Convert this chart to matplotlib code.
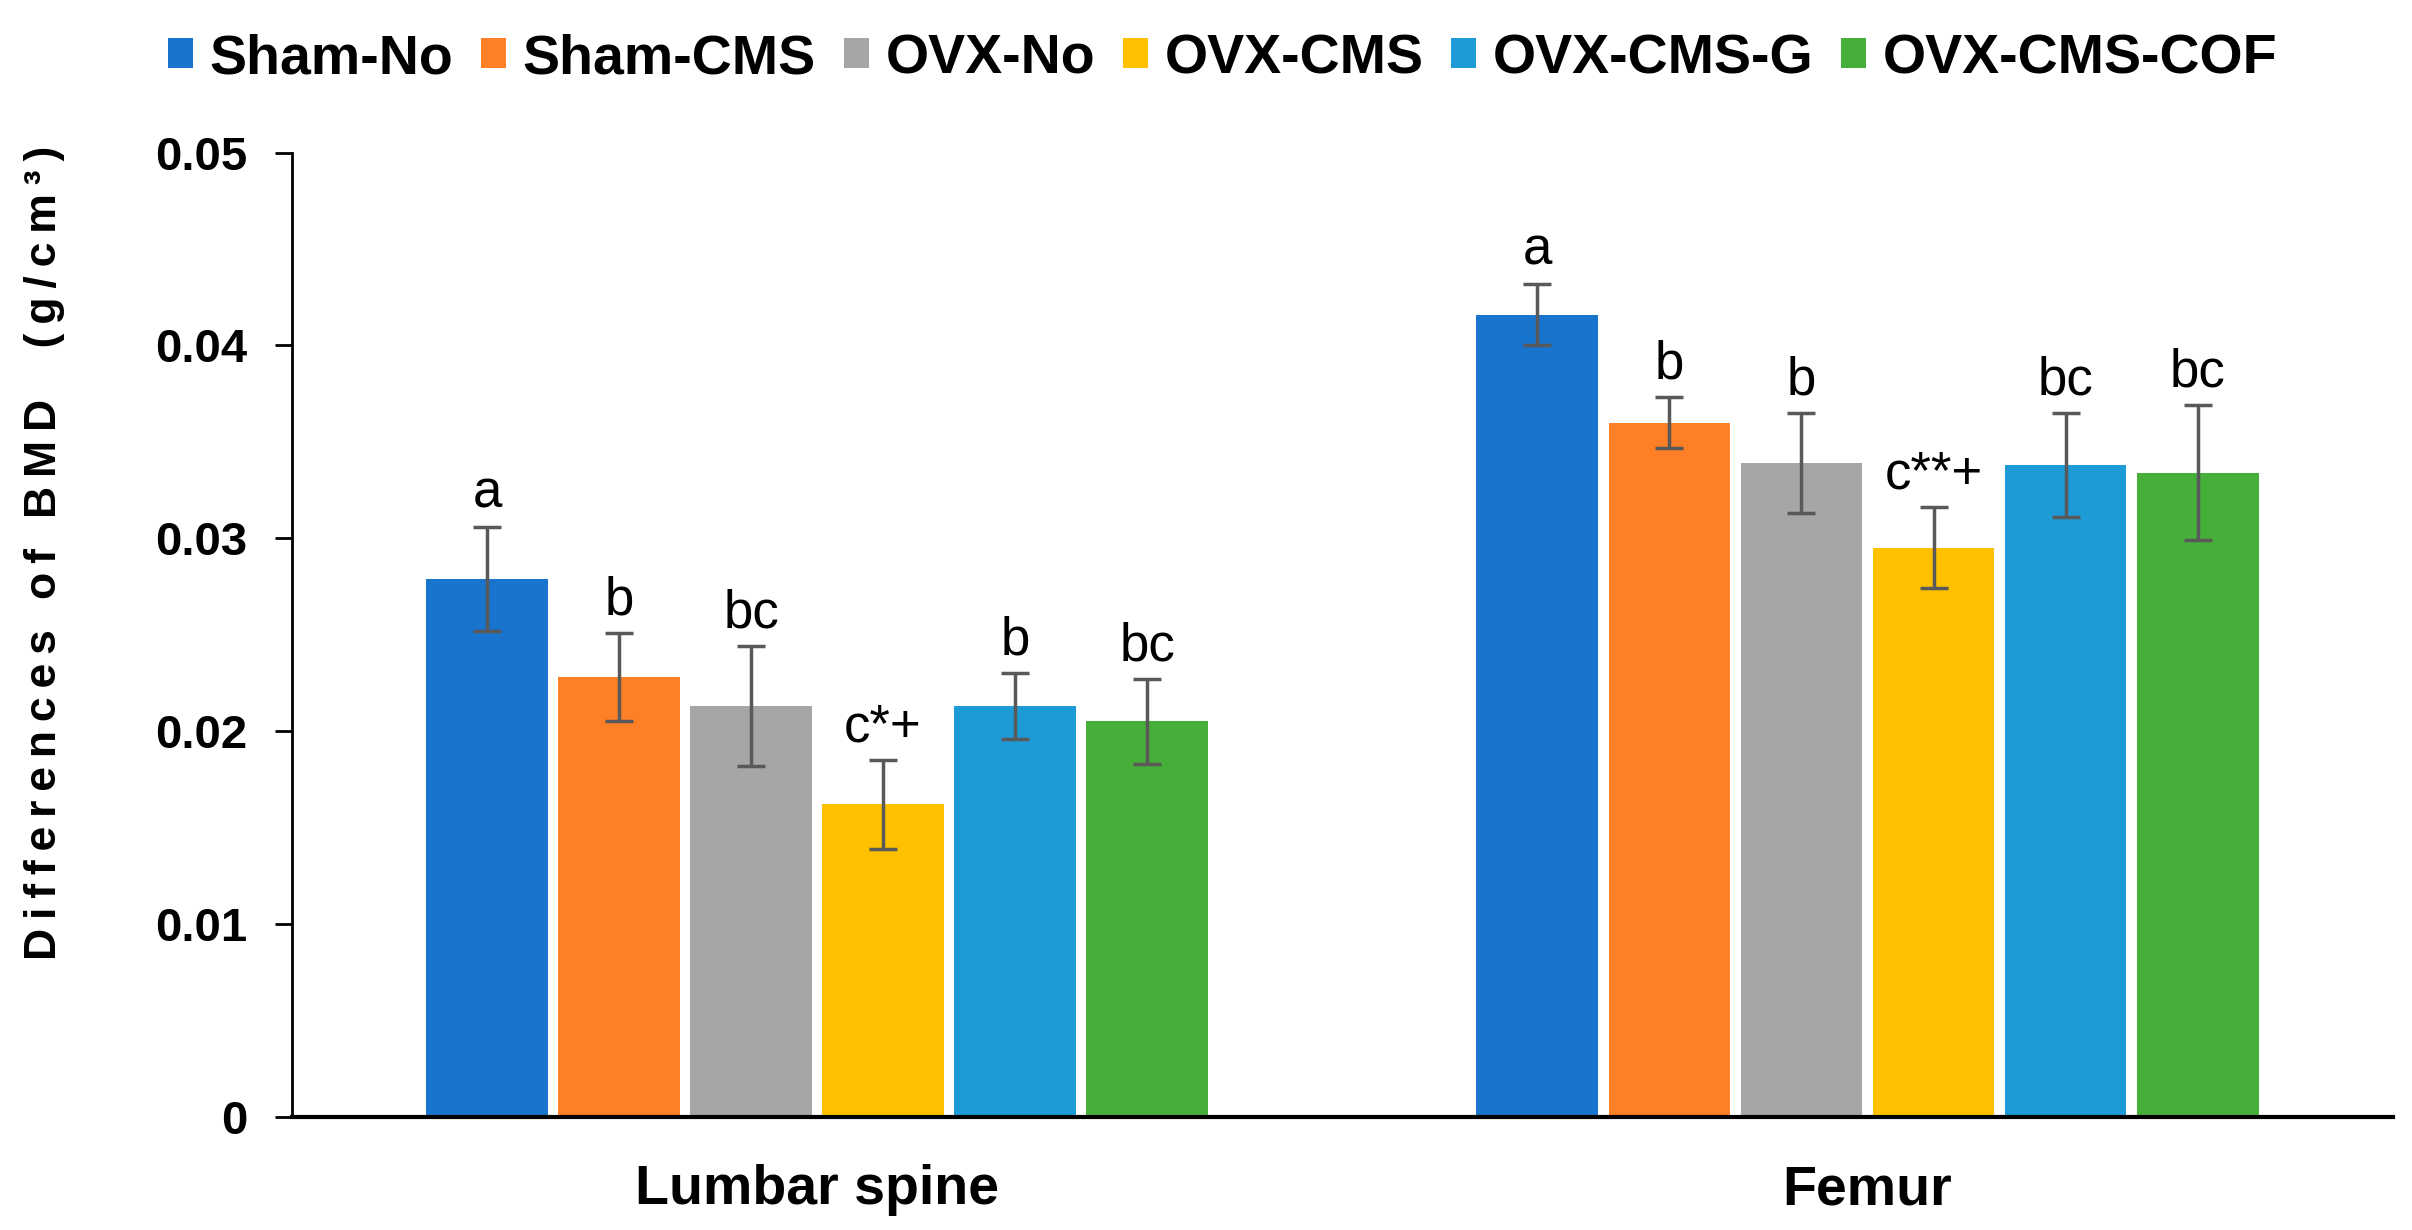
import numpy as np
import matplotlib
matplotlib.use("Agg")
import matplotlib.pyplot as plt

plt.rcParams['font.family'] = ['Liberation Sans', 'DejaVu Sans']

sites = ["Lumbar spine", "Femur"]
groups = ["Sham-No", "Sham-CMS", "OVX-No", "OVX-CMS", "OVX-CMS-G", "OVX-CMS-COF"]
colors = ["#1874CD", "#FF7F27", "#A6A6A6", "#FFC000", "#1E9BD7", "#45AF3A"]

# mean values per group, [lumbar, femur]
means = {
    "Sham-No":     [0.0279, 0.0416],
    "Sham-CMS":    [0.0228, 0.0360],
    "OVX-No":      [0.0213, 0.0339],
    "OVX-CMS":     [0.0162, 0.0295],
    "OVX-CMS-G":   [0.0213, 0.0338],
    "OVX-CMS-COF": [0.0205, 0.0334],
}
errors = {
    "Sham-No":     [0.0027, 0.0016],
    "Sham-CMS":    [0.0023, 0.0013],
    "OVX-No":      [0.0031, 0.0026],
    "OVX-CMS":     [0.0023, 0.0021],
    "OVX-CMS-G":   [0.0017, 0.0027],
    "OVX-CMS-COF": [0.0022, 0.0035],
}
letters = {
    "Sham-No":     ["a", "a"],
    "Sham-CMS":    ["b", "b"],
    "OVX-No":      ["bc", "b"],
    "OVX-CMS":     ["c*+", "c**+"],
    "OVX-CMS-G":   ["b", "bc"],
    "OVX-CMS-COF": ["bc", "bc"],
}
ylabel = "Differences of BMD  (g/cm\u00b3)"

fig = plt.figure(figsize=(24.12, 12.3), dpi=100)
ax = fig.add_axes([0.121, 0.092, 0.871, 0.784])

x = np.arange(len(sites))
slot = 0.1257
width = 0.116
for i, g in enumerate(groups):
    pos = x + (i - 2.5) * slot
    ax.bar(pos, means[g], width, color=colors[i], label=g, zorder=2)
    ax.errorbar(pos, means[g], yerr=errors[g], fmt='none', ecolor='#595959',
                elinewidth=2.5, capsize=10, capthick=2.5, zorder=3)
    for p, m, e, t in zip(pos, means[g], errors[g], letters[g]):
        ax.text(p, m + e + 0.0004, t, ha='center', va='bottom', fontsize=38)

ax.set_xlim(-0.5, 1.5)
ax.set_ylim(0, 0.05)
ax.set_yticks([0, 0.01, 0.02, 0.03, 0.04, 0.05])
ax.set_yticklabels(["0", "0.01", "0.02", "0.03", "0.04", "0.05"])
ax.set_xticks(x)
ax.set_xticklabels(sites, fontsize=40, fontweight='bold')
ax.tick_params(axis='x', length=0, pad=34)
ax.tick_params(axis='y', labelsize=34, length=12, width=2, direction='out', pad=20)
for lab in ax.get_yticklabels():
    lab.set_fontweight('bold')
ax.spines['top'].set_visible(False)
ax.spines['right'].set_visible(False)
ax.spines['left'].set_linewidth(2)
ax.spines['bottom'].set_linewidth(3)

# the original label is letter-spaced, so put thin spaces between the characters
spaced = "\u2009".join(ylabel)
ax.set_ylabel(spaced, fontsize=32, fontweight='bold')
ax.yaxis.set_label_coords(-0.108, 0.585)

fig.legend(loc='center', bbox_to_anchor=(0.507, 0.952), ncol=6, frameon=False,
           prop={'size': 40, 'weight': 'bold'}, handlelength=0.45, handleheight=0.45,
           handletextpad=0.3, columnspacing=0.5)

fig.savefig("out.png", dpi=100)
